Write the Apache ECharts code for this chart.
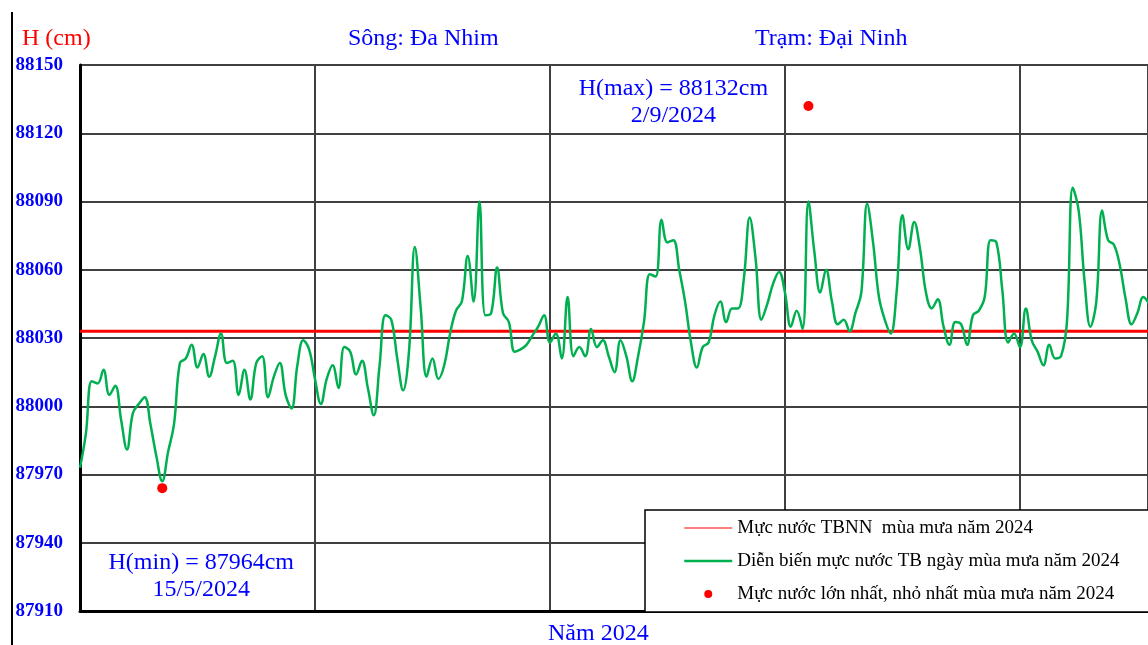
<!DOCTYPE html>
<html>
<head>
<meta charset="utf-8">
<script src="https://cdn.jsdelivr.net/npm/echarts@6/dist/echarts.min.js"></script>
<style>
  html, body { margin: 0; padding: 0; background: #fff; }
  #chart { width: 1148px; height: 645px; }
</style>
</head>
<body>
<div id="chart"></div>
<script>
// Y scale (cm)
const yMin = 87910;
const yMax = 88150;
const yStep = 30;

// X scale: day index counted from 1/5/2024, vertical grid every 40 days
const dayStep = 40;
const lastDay = 181.8;

// Daily mean water level, rainy season 2024 (day 0 = 1/5/2024)
const levels = [
  87973, 87988, 88011, 88010, 88016, 88005, 88009, 87994, 87981, 87997,
  88001, 88004, 87992, 87978, 87967, 87980, 87992, 88019, 88021, 88027,
  88017, 88023, 88013, 88022, 88032, 88019, 88020, 88005, 88016, 88003,
  88019, 88022, 88004, 88013, 88019, 88005, 87999, 88018, 88029, 88025,
  88012, 88001, 88012, 88018, 88008, 88026, 88024, 88014, 88020, 88008,
  87996, 88018, 88040, 88038, 88021, 88007, 88024, 88070, 88043, 88013,
  88021, 88012, 88018, 88032, 88042, 88046, 88066, 88046, 88090, 88040,
  88041, 88061, 88041, 88037, 88024, 88025, 88027, 88031, 88035, 88040,
  88028, 88032, 88021, 88048, 88022, 88026, 88022, 88034, 88026, 88029,
  88022, 88015, 88029, 88022, 88011, 88022, 88037, 88058, 88057, 88082,
  88072, 88073, 88060, 88046, 88028, 88017, 88026, 88028, 88040, 88046,
  88037, 88043, 88043, 88056, 88083, 88065, 88038, 88045, 88054, 88059,
  88050, 88035, 88042, 88034, 88090, 88068, 88050, 88060, 88046, 88036,
  88038, 88033, 88041, 88050, 88089, 88072, 88048, 88038, 88032, 88050,
  88084, 88069, 88081, 88069, 88050, 88043, 88047, 88035, 88027, 88037,
  88036, 88027, 88040, 88042, 88048, 88073, 88072, 88051, 88028, 88032,
  88026, 88043, 88029, 88024, 88018, 88027, 88021, 88022, 88037, 88096,
  88086, 88055, 88035, 88046, 88086, 88073, 88071, 88062, 88047, 88036,
  88041, 88048, 88045
];

// Long-term average level for the rainy season
const tbnn = 88033;

// Season extremes
const extremeDays = [14, 124];
const extremeValues = [87964, 88132];
const extremeDates = ['15/5/2024', '2/9/2024'];
const extremeTags = ['min', 'max'];

const seriesNames = [
  'Mực nước TBNN  mùa mưa năm 2024',
  'Diễn biến mực nước TB ngày mùa mưa năm 2024',
  'Mực nước lớn nhất, nhỏ nhất mùa mưa năm 2024'
];

const serif = "'Liberation Serif', 'Times New Roman', 'DejaVu Serif', serif";
const blue = '#0000ff';

const levelData = levels.map((v, i) => [i, v]);
const tbnnData = [[0, tbnn], [lastDay, tbnn]];

// label placement for each extreme (min: below right, max: to the left)
const extremeLabelOffsets = { min: [39, 88], max: [-135, -4] };
const extremeData = extremeDays.map((d, i) => ({
  value: [d, extremeValues[i]],
  label: { offset: extremeLabelOffsets[extremeTags[i]] }
}));

const chart = echarts.init(document.getElementById('chart'), null, { renderer: 'canvas' });

const titleText = { fontFamily: serif, fontSize: 24, fontWeight: 'normal' };

chart.setOption({
  animation: false,
  backgroundColor: '#ffffff',
  title: [
    { text: 'H (cm)', left: 22, top: 27, padding: 0,
      textStyle: Object.assign({ color: '#ff0000' }, titleText) },
    { text: 'Sông: Đa Nhim', left: 348, top: 27, padding: 0,
      textStyle: Object.assign({ color: blue }, titleText) },
    { text: 'Trạm: Đại Ninh', left: 755, top: 27, padding: 0,
      textStyle: Object.assign({ color: blue }, titleText) },
    { text: 'Năm 2024', left: 548, top: 622, padding: 0,
      textStyle: Object.assign({ color: blue }, titleText) }
  ],
  graphic: [
    { type: 'line', silent: true, z: 10,
      shape: { x1: 12, y1: 12, x2: 12, y2: 645 },
      style: { stroke: '#000', lineWidth: 2 } }
  ],
  legend: {
    orient: 'vertical',
    left: 645,
    top: 510,
    padding: [8, 60, 8, 38],
    itemGap: 13,
    itemWidth: 48,
    itemHeight: 8,
    backgroundColor: '#ffffff',
    borderColor: '#000000',
    borderWidth: 1.5,
    textStyle: { fontFamily: serif, fontSize: 19, color: '#000', lineHeight: 20 },
    data: [
      { name: seriesNames[0], itemStyle: { opacity: 0 }, lineStyle: { width: 1, color: '#ff0000' } },
      { name: seriesNames[1], itemStyle: { opacity: 0 }, lineStyle: { width: 2.5, color: '#00b050' } },
      { name: seriesNames[2], icon: 'circle' }
    ]
  },
  grid: { left: 80, right: 0, top: 65, bottom: 34, containLabel: false },
  xAxis: {
    type: 'value',
    min: 0,
    max: lastDay,
    interval: dayStep,
    axisLine: { show: true, onZero: false, lineStyle: { color: '#000', width: 3 } },
    axisTick: { show: false },
    axisLabel: { show: false },
    splitLine: { show: true, lineStyle: { color: '#404040', width: 2 } }
  },
  yAxis: {
    type: 'value',
    min: yMin,
    max: yMax,
    interval: yStep,
    axisLine: { show: true, lineStyle: { color: '#000', width: 3 } },
    axisTick: { show: false },
    axisLabel: {
      color: blue, fontFamily: serif, fontWeight: 'bold', fontSize: 19, margin: 17,
      formatter: v => String(v)
    },
    splitLine: { show: true, lineStyle: { color: '#404040', width: 2 } }
  },
  series: [
    {
      name: seriesNames[0],
      type: 'line',
      data: tbnnData,
      symbol: 'none',
      lineStyle: { color: '#ff0000', width: 3 },
      itemStyle: { color: '#ff0000' },
      z: 2
    },
    {
      name: seriesNames[1],
      type: 'line',
      data: levelData,
      symbol: 'none',
      smooth: 0.4,
      lineStyle: { color: '#00b050', width: 2.5 },
      itemStyle: { color: '#00b050' },
      z: 3
    },
    {
      name: seriesNames[2],
      type: 'scatter',
      data: extremeData,
      symbol: 'circle',
      symbolSize: 10,
      itemStyle: { color: '#ff0000', opacity: 1 },
      z: 4,
      label: {
        show: true,
        position: 'inside',
        color: blue,
        fontFamily: serif,
        fontSize: 24,
        lineHeight: 27,
        align: 'center',
        verticalAlign: 'middle',
        formatter: p => {
          const i = p.dataIndex;
          return 'H(' + extremeTags[i] + ') = ' + extremeValues[i] + 'cm\n' + extremeDates[i];
        }
      }
    }
  ]
});
</script>
</body>
</html>
